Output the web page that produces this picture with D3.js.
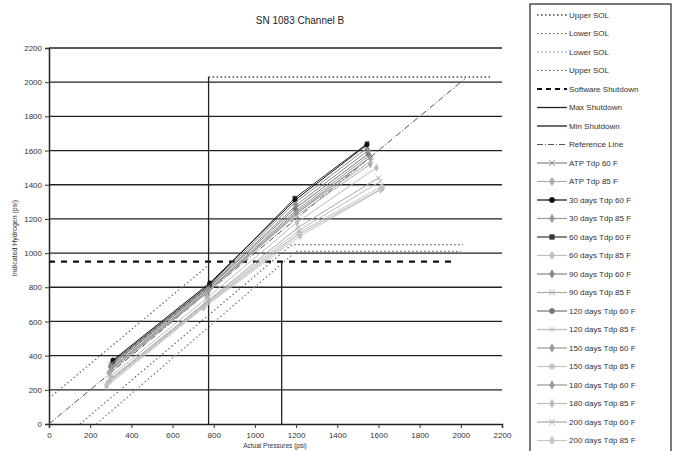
<!DOCTYPE html>
<html><head><meta charset="utf-8">
<script src="https://cdn.jsdelivr.net/npm/d3@7"></script>
<style>body{margin:0;background:#fff}svg{display:block}text{font-family:"Liberation Sans",Arial,sans-serif}</style>
</head><body><svg id="c" width="675" height="451"></svg>
<script>
const title = "SN 1083 Channel B";
const xTitle = "Actual Pressures (psi)";
const yTitle = "Indicated Hydrogen (psi)";
const xTicks = [0,200,400,600,800,1000,1200,1400,1600,1800,2000,2200];
const yTicks = [0,200,400,600,800,1000,1200,1400,1600,1800,2000,2200];

// limit lines [x,y]
const upperSOL1 = [[775,2030],[2150,2030]];
const lowerSOL1 = [[150,0],[1180,1050],[2010,1050]];
const lowerSOL2 = [[230,0],[1200,1010],[2000,1010]];
const upperSOL2 = [[0,150],[775,930]];
const softwareShutdown = [[0,950],[1970,950]];
const maxShutdown = [[775,0],[775,2030]];
const minShutdown = [[1130,0],[1130,950]];
const referenceLine = [[0,0],[2020,2020]];

// data series: actual x values and indicated y values
const seriesNames = ["ATP Tdp 60 F","ATP Tdp 85 F","30 days Tdp 60 F","30 days Tdp 85 F","60 days Tdp 60 F","60 days Tdp 85 F","90 days Tdp 60 F","90 days Tdp 85 F","120 days Tdp 60 F","120 days Tdp 85 F","150 days Tdp 60 F","150 days Tdp 85 F","180 days Tdp 60 F","180 days Tdp 85 F","200 days Tdp 60 F","200 days Tdp 85 F"];
const seriesX = [
 [300,770,1190,1540],[290,760,1180,1560],[311,781,1195,1543],[305,775,1200,1560],
 [310,780,1194,1545],[300,770,1205,1590],[305,775,1200,1550],[295,770,1210,1600],
 [300,770,1195,1550],[290,765,1210,1610],[305,775,1200,1555],[285,760,1215,1615],
 [300,770,1200,1560],[280,755,1215,1620],[300,770,1205,1565],[280,750,1220,1610]];
const seriesY = [
 [350,800,1290,1610],[300,760,1200,1520],[374,825,1310,1632],[320,780,1230,1560],
 [365,815,1322,1640],[280,740,1180,1500],[350,800,1280,1600],[260,720,1150,1440],
 [340,790,1260,1580],[250,710,1130,1420],[330,785,1250,1570],[240,700,1120,1390],
 [330,780,1240,1560],[230,690,1110,1380],[320,775,1234,1540],[220,680,1100,1370]];
const seriesColor = ["#888","#aaa","#111","#999","#333","#bbb","#888","#aaa","#777","#bbb","#999","#c4c4c4","#999","#bbb","#aaa","#c4c4c4"];
const seriesMarker = ["x","diamond","circle","diamond","square","diamond","diamond","x","circle","x","diamond","circle","diamond","diamond","x","diamond"];

const svg = d3.select("#c");
const x = d3.scaleLinear().domain([0,2200]).range([49,502]);
const y = d3.scaleLinear().domain([0,2200]).range([424,48]);

// gridlines
svg.append("g").selectAll("line").data(yTicks.slice(1)).join("line")
  .attr("x1",x(0)).attr("x2",x(2200)).attr("y1",d=>y(d)).attr("y2",d=>y(d))
  .attr("stroke","#222").attr("stroke-width",1.3);

// axes
const xa = svg.append("g").attr("transform",`translate(0,${y(0)})`)
  .call(d3.axisBottom(x).tickValues(xTicks).tickSize(4).tickFormat(d3.format("d")));
const ya = svg.append("g").attr("transform",`translate(${x(0)},0)`)
  .call(d3.axisLeft(y).tickValues(yTicks).tickSize(4).tickFormat(d3.format("d")));
[xa,ya].forEach(a=>{a.select(".domain").attr("stroke","#222").attr("stroke-width",1.5);
  a.selectAll(".tick line").attr("stroke","#333");
  a.selectAll("text").attr("font-size",8).attr("fill","#333");});
xa.selectAll("text").attr("dy","0.9em");

const line = d3.line().x(d=>x(d[0])).y(d=>y(d[1]));
function drawLimit(pts, color, w, dash){
  svg.append("path").datum(pts).attr("d",line).attr("fill","none")
    .attr("stroke",color).attr("stroke-width",w).attr("stroke-dasharray",dash||null);
}
drawLimit(upperSOL2,"#666",1.2,"1.5,2.5");
drawLimit(lowerSOL1,"#666",1.2,"1.5,2.5");
drawLimit(lowerSOL2,"#777",1.2,"1.5,2.5");
drawLimit(upperSOL1,"#444",1.5,"1.5,2.5");
drawLimit(softwareShutdown,"#111",2.2,"6,6");
drawLimit(maxShutdown,"#222",1.3);
drawLimit(minShutdown,"#222",1.3);
drawLimit(referenceLine,"#555",1,"6,2,1,2");

const symMap = {x:d3.symbolX, diamond:d3.symbolDiamond, circle:d3.symbolCircle, square:d3.symbolSquare};
function marker(g, type, cx, cy, color, size){
  g.append("path").attr("transform",`translate(${cx},${cy})`)
    .attr("d",d3.symbol().type(symMap[type]).size(size)())
    .attr("fill", type==="x" ? "none" : color)
    .attr("stroke", color).attr("stroke-width", type==="x"?1:0.5);
}

// data series (draw light first)
const order = d3.range(seriesNames.length).reverse();
order.forEach(i=>{
  const pts = seriesX[i].map((v,k)=>[v, seriesY[i][k]]);
  const g = svg.append("g");
  g.append("path").datum(pts).attr("d",line).attr("fill","none")
    .attr("stroke",seriesColor[i]).attr("stroke-width",1);
  pts.forEach(p=>marker(g, seriesMarker[i], x(p[0]), y(p[1]), seriesColor[i], 16));
});

// titles
svg.append("text").attr("x",300).attr("y",24).attr("text-anchor","middle")
  .attr("font-size",10).attr("fill","#222").text(title);
svg.append("text").attr("x",275).attr("y",448).attr("text-anchor","middle")
  .attr("font-size",6.5).attr("fill","#333").text(xTitle);
svg.append("text").attr("transform","translate(17,238) rotate(-90)").attr("text-anchor","middle")
  .attr("font-size",7).attr("fill","#333").text(yTitle);

// legend
const leg = svg.append("g");
leg.append("rect").attr("x",530).attr("y",4).attr("width",141).attr("height",460)
  .attr("fill","#fff").attr("stroke","#222").attr("stroke-width",1.2);
const legItems = [
 {n:"Upper SOL",c:"#444",w:1.5,d:"1.5,2.5"},
 {n:"Lower SOL",c:"#666",w:1.2,d:"1.5,2.5"},
 {n:"Lower SOL",c:"#777",w:1.2,d:"1.5,2.5"},
 {n:"Upper SOL",c:"#666",w:1.2,d:"1.5,2.5"},
 {n:"Software Shutdown",c:"#111",w:2.2,d:"5,4"},
 {n:"Max Shutdown",c:"#222",w:1.3},
 {n:"Min Shutdown",c:"#222",w:1.3},
 {n:"Reference Line",c:"#555",w:1,d:"6,2,1,2"}
].concat(seriesNames.map((n,i)=>({n:n,c:seriesColor[i],w:1.2,m:seriesMarker[i]})));
legItems.forEach((it,i)=>{
  const yy = 15 + i*18.5;
  leg.append("line").attr("x1",537).attr("x2",567).attr("y1",yy).attr("y2",yy)
    .attr("stroke",it.c).attr("stroke-width",it.w).attr("stroke-dasharray",it.d||null);
  if(it.m) marker(leg, it.m, 552, yy, it.c, 22);
  leg.append("text").attr("x",569).attr("y",yy).attr("dy","0.35em")
    .attr("font-size",8).attr("fill","#333").text(it.n);
});
</script></body></html>
